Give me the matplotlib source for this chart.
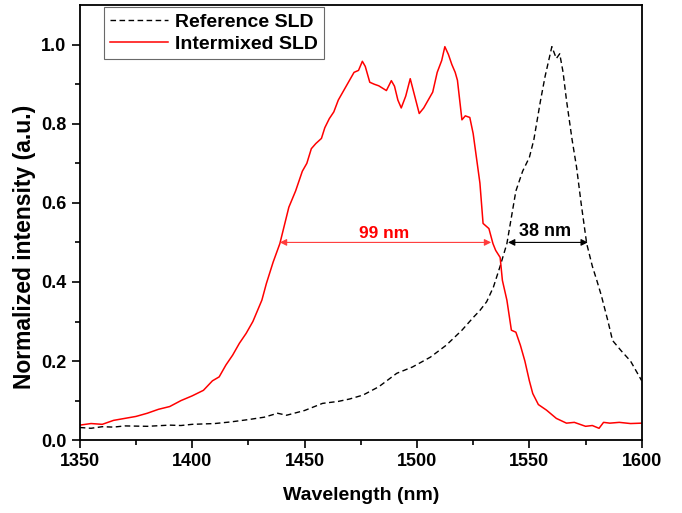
import numpy as np
import matplotlib.pyplot as plt

plt.rcParams['font.family'] = ['Liberation Sans', 'DejaVu Sans']
plt.rcParams['font.weight'] = 'bold'

# Reference SLD (black dashed)
ref_wl = [1350, 1355, 1360, 1365, 1370, 1380, 1390, 1395, 1400, 1410, 1417, 1425, 1432, 1438,
          1442, 1450, 1458, 1465, 1470, 1476, 1483, 1491, 1498, 1506, 1513, 1520, 1525, 1528,
          1531, 1534, 1537, 1540, 1544, 1547, 1550, 1552, 1555, 1557, 1559, 1560, 1561, 1562,
          1563.5, 1565, 1566.5, 1569, 1571, 1573, 1575.5, 1578, 1580, 1582, 1585, 1587, 1591,
          1595, 1598, 1600]
ref_int = [0.032, 0.030, 0.034, 0.033, 0.036, 0.035, 0.038, 0.037, 0.040, 0.042, 0.046, 0.052,
           0.058, 0.068, 0.063, 0.075, 0.093, 0.098, 0.104, 0.114, 0.135, 0.169, 0.185, 0.21,
           0.24, 0.278, 0.31, 0.328, 0.35, 0.387, 0.44, 0.497, 0.63, 0.68, 0.715, 0.76, 0.86,
           0.92, 0.97, 0.995, 0.98, 0.965, 0.977, 0.93, 0.86, 0.76, 0.69, 0.60, 0.497, 0.44,
           0.404, 0.366, 0.30, 0.252, 0.225, 0.20, 0.17, 0.15]

# Intermixed SLD (red solid)
mix_wl = [1350, 1355, 1360, 1365, 1370, 1375, 1380, 1385, 1390, 1395, 1400, 1405, 1409, 1412,
          1415, 1418, 1421, 1424, 1427, 1431, 1433, 1436, 1439, 1443, 1446, 1449, 1451, 1453,
          1455, 1457.5, 1459, 1461, 1463, 1465, 1467, 1469, 1472, 1474, 1475.7, 1477, 1479,
          1481, 1483, 1486.4, 1488.6, 1490, 1491.5, 1493, 1495, 1497, 1499, 1501, 1503, 1505,
          1507, 1509, 1511, 1512.4, 1514, 1515.5, 1517, 1518, 1520, 1521.5, 1523.5, 1525, 1528,
          1529.4, 1532, 1533.8, 1535, 1537, 1538, 1540, 1542, 1544, 1546, 1548, 1550, 1551.5,
          1554, 1557.6, 1562, 1566.5, 1570, 1575, 1578, 1581, 1583, 1585.8, 1590, 1595, 1600]
mix_int = [0.038, 0.042, 0.040, 0.050, 0.055, 0.060, 0.068, 0.078, 0.085, 0.100, 0.112, 0.126,
           0.150, 0.160, 0.19, 0.215, 0.245, 0.27, 0.30, 0.354, 0.396, 0.45, 0.497, 0.589,
           0.63, 0.68, 0.70, 0.737, 0.75, 0.763, 0.79, 0.813, 0.83, 0.86, 0.88, 0.90, 0.93,
           0.935, 0.958, 0.945, 0.905, 0.90, 0.896, 0.884, 0.909, 0.895, 0.86, 0.84, 0.87,
           0.914, 0.87, 0.826, 0.84, 0.86, 0.88, 0.93, 0.96, 0.995, 0.975, 0.95, 0.93, 0.91,
           0.81, 0.82, 0.816, 0.775, 0.65, 0.548, 0.535, 0.497, 0.48, 0.462, 0.404, 0.354,
           0.278, 0.273, 0.24, 0.20, 0.15, 0.118, 0.09, 0.076, 0.055, 0.043, 0.045, 0.035,
           0.037, 0.030, 0.045, 0.043, 0.045, 0.042, 0.043]

fig = plt.figure(figsize=(6.82, 5.13), dpi=100)
ax = fig.add_axes([0.117, 0.142, 0.824, 0.848])

ax.plot(ref_wl, ref_int, color='black', linestyle=(0, (4, 2.5)), linewidth=1.0,
        label='Reference SLD')
ax.plot(mix_wl, mix_int, color='#ff0000', linewidth=1.1, label='Intermixed SLD')

# FWHM markers
ax.annotate('', xy=(1439, 0.5), xytext=(1533, 0.5),
            arrowprops=dict(arrowstyle='<|-|>', color='#ff3b3b', lw=0.8,
                            mutation_scale=10, shrinkA=0, shrinkB=0))
ax.text(1485.5, 0.523, '99 nm', color='#ff0000', fontsize=12.5, fontweight='bold',
        ha='center', va='center')
ax.annotate('', xy=(1540.5, 0.5), xytext=(1576, 0.5),
            arrowprops=dict(arrowstyle='<|-|>', color='black', lw=0.8,
                            mutation_scale=10, shrinkA=0, shrinkB=0))
ax.text(1557, 0.528, '38 nm', color='black', fontsize=13, fontweight='bold',
        ha='center', va='center')

ax.set_xlim(1350, 1600)
ax.set_ylim(0, 1.1)
ax.set_xticks([1350, 1400, 1450, 1500, 1550, 1600])
ax.set_xticks(np.arange(1375, 1600, 50), minor=True)
ax.set_yticks([0.0, 0.2, 0.4, 0.6, 0.8, 1.0])
ax.set_yticks([0.1, 0.3, 0.5, 0.7, 0.9], minor=True)
ax.set_yticklabels(['0.0', '0.2', '0.4', '0.6', '0.8', '1.0'])
ax.tick_params(which='major', direction='out', length=6, width=1.2, labelsize=13)
ax.tick_params(which='minor', direction='out', length=3.5, width=1.2)
for s in ax.spines.values():
    s.set_linewidth(1.3)

ax.set_xlabel('Wavelength (nm)', fontsize=14, fontweight='bold', labelpad=12)
ax.set_ylabel('Normalized intensity (a.u.)', fontsize=16.5, fontweight='bold')
ax.yaxis.set_label_coords(-0.078, 0.444)

leg = ax.legend(loc='upper left', bbox_to_anchor=(0.043, 0.995), fontsize=14,
                frameon=True, fancybox=False, handlelength=3.0, handletextpad=0.35,
                borderpad=0.3, labelspacing=0.24, borderaxespad=0.0)
leg.get_frame().set_edgecolor('#444444')
leg.get_frame().set_linewidth(0.8)
for t in leg.get_texts():
    t.set_fontweight('bold')

fig.savefig('out.png', dpi=100)
